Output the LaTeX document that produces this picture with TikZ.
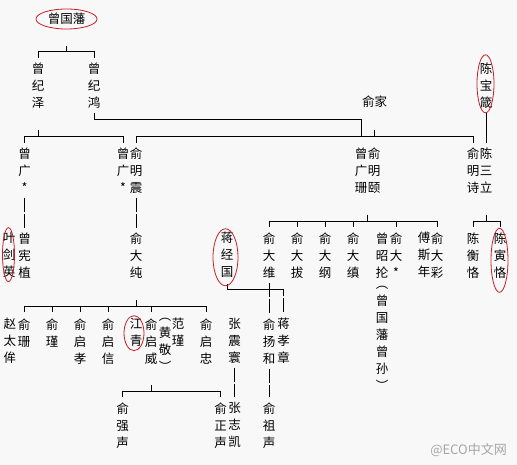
\documentclass[tikz,border=0pt]{standalone}
\usepackage{fontspec}
\newfontfamily\cjk{Noto Sans CJK SC}
\usetikzlibrary{calc}
\definecolor{paper}{RGB}{248,248,248}
\definecolor{ringred}{RGB}{200,30,40}
\tikzset{
 member/.style={font=\cjk\fontsize{12.5}{17}\selectfont,align=center,inner sep=0pt,anchor=north,
   execute at begin node=\strut,execute at end node=\strut},
 tick/.style={dash pattern=on 14pt off 2pt},
 ring/.style={ringred,line width=0.8pt},
}
\begin{document}
\begin{tikzpicture}[x=1pt,y=-1pt,line width=0.9pt]
 \fill[paper] (0,0) rectangle (517,465);
 \useasboundingbox (0,0) rectangle (517,465);
 % people
 \node[member,anchor=center] (zgf) at (66.5,20.3) {曾国藩};
 \node[member] (zjz) at (38,62) {曾\\纪\\泽};
 \node[member] (zjh) at (94,62) {曾\\纪\\鸿};
 \node[member,anchor=center] (yujia) at (374.5,103.3) {俞家};
 \node[member] (cbz) at (486,62) {陈\\宝\\箴};
 \node[member] (zgA) at (24.5,147) {曾\\广\\*};
 \node[member] (zgB) at (123,147) {曾\\广\\*};
 \node[member] (ymz) at (136,147) {俞\\明\\震};
 \node[member] (zgs) at (361,147) {曾\\广\\珊};
 \node[member] (ymy) at (374,147) {俞\\明\\颐};
 \node[member] (yms) at (473,147) {俞\\明\\诗};
 \node[member] (csl) at (486,147) {陈\\三\\立};
 \node[member] (yjy) at (9,232) {叶\\剑\\英};
 \node[member] (zxz) at (24.5,232) {曾\\宪\\植};
 \node[member] (ydc) at (136,232) {俞\\大\\纯};
 \node[member] (jjg) at (227,232) {蒋\\经\\国};
 \node[member] (ydw) at (269,232) {俞\\大\\维};
 \node[member] (ydb) at (297,232) {俞\\大\\拔};
 \node[member] (ydg) at (325,232) {俞\\大\\纲};
 \node[member] (ydz) at (353,232) {俞\\大\\缜};
 \node[member] (zzl) at (382,232) {曾\\昭\\抡};
 \node[member] (ydy) at (396,232) {俞\\大\\*};
 \node[member] (fsn) at (424,232) {傅\\斯\\年};
 \node[member] (ydcai) at (437,232) {俞\\大\\彩};
 \node[member] (chk) at (473,232) {陈\\衡\\恪};
 \node[member] (cyk) at (500,232) {陈\\寅\\恪};
 \node[member] (zsun) at (382,286) {︵\\曾\\国\\藩\\曾\\孙\\︶};
 \node[member] (ztw) at (10,318) {赵\\太\\侔};
 \node[member] (ys) at (24,318) {俞\\珊};
 \node[member] (yj) at (52,318) {俞\\瑾};
 \node[member] (yqx) at (80,318) {俞\\启\\孝};
 \node[member] (yqxin) at (108,318) {俞\\启\\信};
 \node[member] (jq) at (136,318) {江\\青};
 \node[member] (yqw) at (151,318) {俞\\启\\威};
 \node[member] (hj) at (165,318) {︵\\黄\\敬\\︶};
 \node[member] (fj) at (178,318) {范\\瑾};
 \node[member] (yqz) at (206,318) {俞\\启\\忠};
 \node[member] (zzh) at (234.5,318) {张\\震\\寰};
 \node[member] (yyh) at (269,318) {俞\\扬\\和};
 \node[member] (jxz) at (283.5,318) {蒋\\孝\\章};
 \node[member] (yqs) at (122.5,402) {俞\\强\\声};
 \node[member] (yzs) at (220.5,402) {俞\\正\\声};
 \node[member] (zzk) at (234.5,402) {张\\志\\凯};
 \node[member] (yzsz) at (269,402) {俞\\祖\\声};
 \node[font=\cjk\fontsize{13}{13}\selectfont,text=gray!70,inner sep=0pt] (wm) at (468.5,450) {@ECO中文网};
 % bars
 \coordinate (barA) at (0,51);
 \coordinate (barB) at (0,136);
 \coordinate (barC) at (0,119);
 \coordinate (barD) at (0,221);
 \coordinate (barE) at (0,289);
 \coordinate (barF) at (0,306);
 \coordinate (barG) at (0,391);
 % lines
 \draw[shorten <=16.5pt] (zgf.south) -- (zgf |- barA);
 \draw (zjz |- barA) -- (zjh |- barA);
 \foreach \k in {zjz,zjh} \draw[shorten >=4pt] (\k |- barA) -- (\k.north);
 \draw[shorten <=17pt] (zjz.south) -- (zjz |- barB);
 \draw (zgA |- barB) -- (zgB |- barB);
 \foreach \k in {zgA,zgB} \draw[shorten >=4pt] (\k |- barB) -- (\k.north);
 \draw[shorten >=11pt] (zjh.south) -- (zjh |- barC) -| (zgs.north);
 \draw[shorten <=18pt] (yujia.south) -- (yujia |- barB);
 \draw (ymz |- barB) -- (yms |- barB);
 \foreach \k in {ymz,yms} \draw[shorten >=4pt] (\k |- barB) -- (\k.north);
 \draw[shorten >=4pt] (cbz.south) -- (csl.north);
 \draw[tick,shorten >=4pt] (zgA.south) -- (zxz.north);
 \draw[tick,shorten >=4pt] (ymz.south) -- (ydc.north);
 \coordinate (m1) at ($(zgs.south)!.5!(ymy.south)$);
 \draw[shorten <=17pt] (m1) -- (m1 |- barD);
 \draw (ydw |- barD) -- (ydcai |- barD);
 \foreach \k in {ydw,ydb,ydg,ydz,ydy,ydcai} \draw[shorten >=5pt] (\k |- barD) -- (\k.north);
 \draw[shorten <=17pt] (csl.south) -- (csl |- barD);
 \draw (chk |- barD) -- (cyk |- barD);
 \foreach \k in {chk,cyk} \draw[shorten >=5pt] (\k |- barD) -- (\k.north);
 \draw[shorten <=2pt] (jjg.south) |- (jxz |- barE);
 \draw[tick,dash phase=7pt,shorten >=5pt] (jxz |- barE) -- (jxz.north);
 \draw[tick,shorten >=5pt] (ydw.south) -- (yyh.north);
 \draw[shorten <=17pt] (ydc.south) -- (ydc |- barF);
 \draw (ys |- barF) -- (yqz |- barF);
 \foreach \k in {ys,yj,yqx,yqxin,yqw,yqz} \draw[shorten >=6pt] (\k |- barF) -- (\k.north);
 \draw[tick,shorten >=5pt] (zzh.south) -- (zzk.north);
 \draw[shorten <=16pt] (yqw.south) -- (yqw |- barG);
 \draw (yqs |- barG) -- (yzs |- barG);
 \foreach \k in {yqs,yzs} \draw[shorten >=5pt] (\k |- barG) -- (\k.north);
 \draw[tick,shorten >=5pt] (yyh.south) -- (yzsz.north);
 % rings
 \draw[ring] ($(zgf)+(0,-1.3)$) ellipse [x radius=30.5,y radius=10];
 \draw[ring] ($(cbz)+(-0.5,-3.5)$) ellipse [x radius=8.5,y radius=29];
 \draw[ring] ($(yjy)+(-0.5,-2.5)$) ellipse [x radius=6,y radius=27];
 \draw[ring] ($(jjg)+(-1.5,0)$) ellipse [x radius=12.5,y radius=28.5];
 \draw[ring] ($(cyk)+(-0.5,3)$) ellipse [x radius=8.5,y radius=32];
 \draw[ring] ($(jq)+(-2,-1.5)$) ellipse [x radius=10,y radius=17.5];
\end{tikzpicture}
\end{document}
